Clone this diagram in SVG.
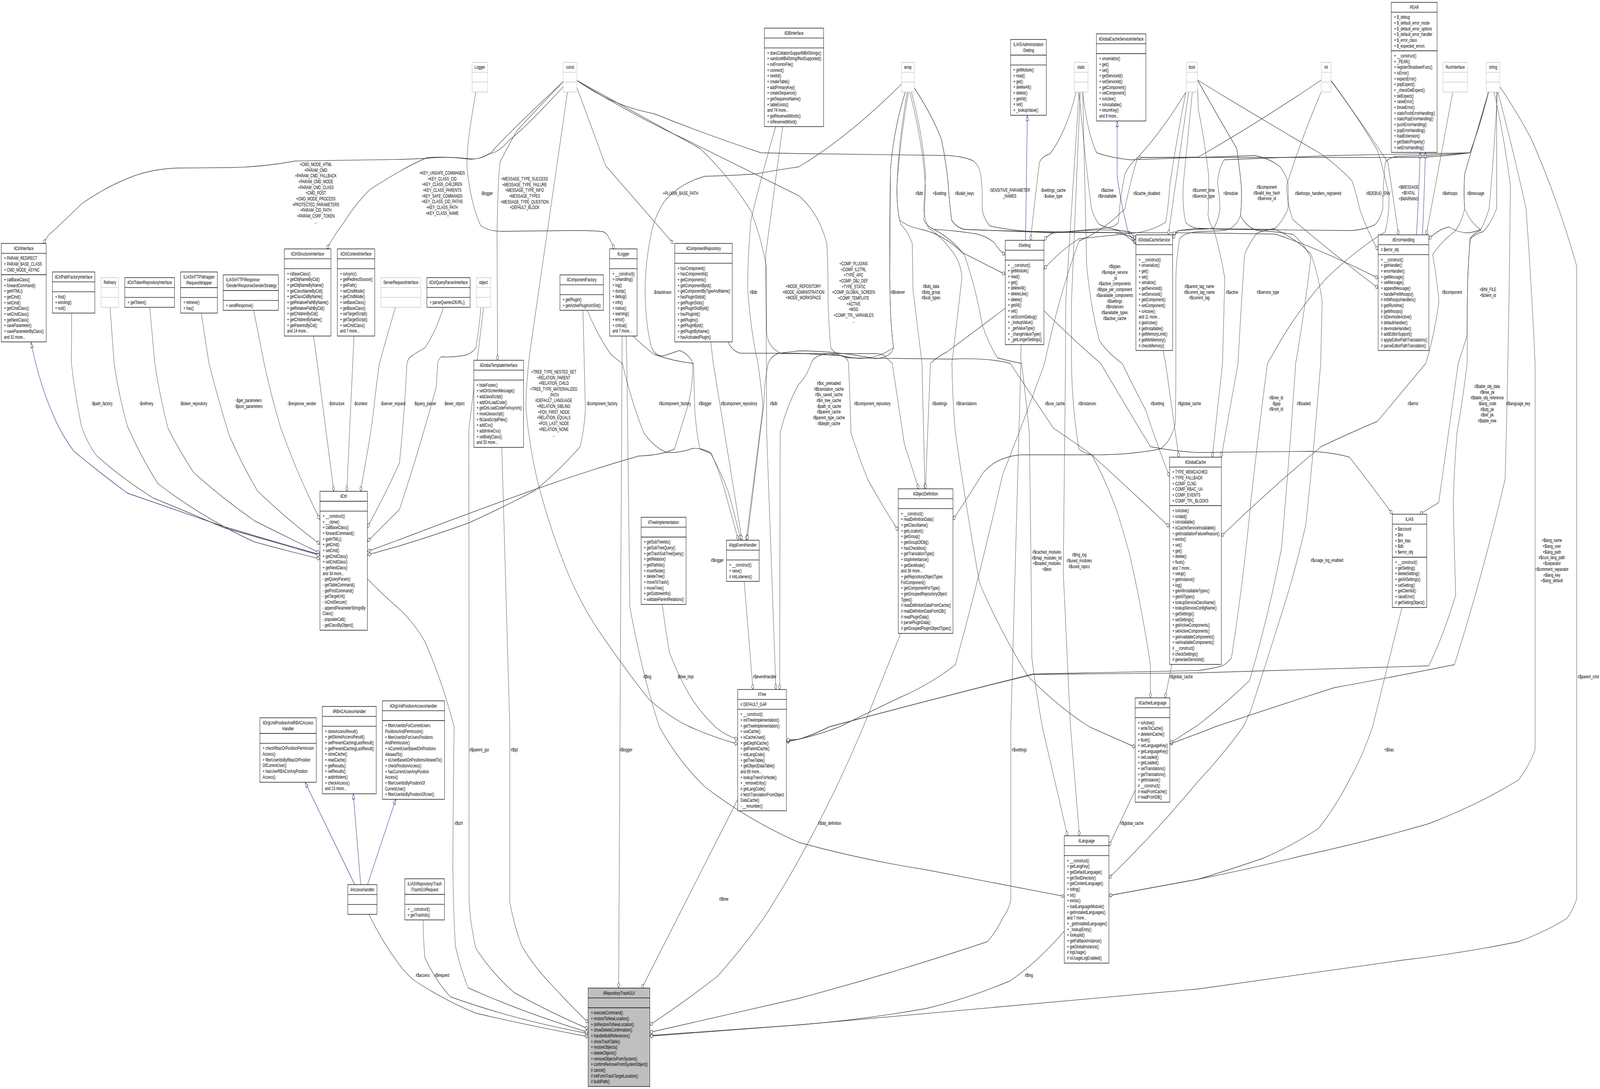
<svg xmlns="http://www.w3.org/2000/svg" width="6409" height="2787" viewBox="0 0 6409 2787" preserveAspectRatio="none">
<style>
svg{width:100vw;height:100vh}
text{font-family:"Liberation Sans",Arial,sans-serif;font-size:13.33px;fill:#000}
.t,.l{text-anchor:middle}
.n rect{fill:#fff;stroke:#000;stroke-width:1.33}
.n path{fill:none;stroke:#000;stroke-width:1.33}
.g rect,.g path{stroke:#bfbfbf}
.f rect{fill:#bfbfbf}
.e{fill:none;stroke:#404040;stroke-width:1.33;marker-end:url(#d)}
.i{fill:none;stroke:#191970;stroke-width:1.33;marker-end:url(#h)}
</style>
<defs>
<marker id="d" markerUnits="userSpaceOnUse" markerWidth="16" markerHeight="12" refX="14.5" refY="6" orient="auto" overflow="visible"><path d="M.5 6L7.5 1.3L14.5 6L7.5 10.7Z" fill="#fff" stroke="#404040" stroke-width="1.33"/></marker>
<marker id="h" markerUnits="userSpaceOnUse" markerWidth="16" markerHeight="12" refX="14.5" refY="6" orient="auto" overflow="visible"><path d="M.5 1.3L14.5 6L.5 10.7Z" fill="#fff" stroke="#191970" stroke-width="1.33"/></marker>
</defs>
<rect width="6409" height="2787" fill="#fff"/>
<g id="connectors">
<path class="e" d="M2256 209Q2020 350 1967 391Q1925 410 1875 406Q1790 400 1712 405Q1650 407 1600 408L1184 412Q1050 428 918 429L714 430Q600 432 510 457Q420 480 326 522Q250 570 194 602Q183 613 173 623"/>
<path class="e" d="M2256 222Q2100 330 2039 359Q2000 390 1957 394Q1915 410 1875 407Q1790 400 1712 403Q1650 420 1600 439Q1530 465 1480 486Q1420 525 1378 569Q1340 600 1309 637"/>
<path class="e" d="M1906 236Q1880 330 1873 380Q1868 420 1873 445Q1890 530 1926 578Q1960 592 2008 592L2300 590Q2380 590 2416 593Q2430 597 2436 605Q2450 620 2460 637"/>
<path class="e" d="M2256 209Q2120 300 2070 335Q2030 380 2003 415Q1995 450 1991 593L1993 922"/>
<path class="e" d="M2273 236L2125 890Q2105 990 2107 1049Q2120 1140 2151 1226Q2200 1350 2273 1464Q2330 1550 2396 1612Q2500 1710 2600 1790Q2680 1835 2763 1860Q2850 1885 2954 1904"/>
<path class="e" d="M2311 224L2426 424L2697 623"/>
<path class="e" d="M2311 206Q2450 270 2620 291Q2830 345 3048 391Q3120 392 3200 393L3800 398Q3870 402 3899 412Q3925 425 3929 451Q3937 490 3934 534Q3940 560 3965 578Q4050 592 4220 595L4800 596L5108 599Q5300 640 5520 712"/>
<path class="e" d="M2311 206Q2520 290 2742 356Q2960 425 3200 501Q3280 545 3312 623Q3318 700 3317 771Q3320 840 3328 890Q3350 912 3404 916L3812 919Q3960 915 4047 930Q4140 1020 4220 1096Q4300 1130 4373 1164Q4520 1250 4684 1348"/>
<path class="e" d="M2311 206Q2580 300 2804 380Q2920 450 3008 540Q3050 610 3069 680L3071 850Q3075 890 3130 905L3500 905Q3545 905 3547 915Q3560 920 3574 930Q3600 1040 3623 1138Q3650 1190 3680 1251"/>
<path class="e" d="M2916 875Q2935 900 2967 904L3200 904Q3300 908 3373 910Q3395 915 3399 930Q3405 1020 3409 1108Q3440 1170 3475 1226Q3530 1290 3598 1358"/>
<path class="e" d="M3107 324Q3050 450 3008 563Q2995 660 2995 741Q3005 830 3028 907Q3034 920 3036 930Q3050 990 3056 1043L2989 1382"/>
<path class="e" d="M3135 324L3067 652L3070 930L3071 1108L3108 1764"/>
<path class="e" d="M3626 236Q3580 330 3567 433Q3562 570 3564 712Q3565 820 3579 890Q3570 915 3506 918Q3350 898 3200 898L3120 904Q3090 910 3077 930Q3068 960 3064 983L3059 1037L2993 1382"/>
<path class="e" d="M3626 236Q3580 330 3567 433L3564 712Q3565 820 3579 890Q3500 925 3410 915L3320 905Q3260 908 3249 930Q3230 965 3200 983Q3150 1040 3125 1108L3123 1764"/>
<path class="e" d="M3611 215Q3400 350 3200 427Q3100 436 3028 445Q2920 450 2824 451Q2720 470 2661 516Q2625 550 2610 593Q2585 670 2584 741Q2585 830 2610 890Q2630 915 2661 910L2722 897Q2755 905 2773 925Q2780 980 2753 1043L2702 1149Q2650 1165 2559 1167Q2350 1205 2141 1253Q1870 1315 1600 1381L1473 1411"/>
<path class="e" d="M3634 236Q3600 360 3593 474Q3592 530 3603 563Q3635 580 3690 587Q3780 600 3853 646L4026 702"/>
<path class="e" d="M3644 236Q3695 360 3707 474Q3705 530 3700 563Q3715 580 3741 587Q3830 590 3914 599Q3960 607 3985 623Q4000 640 4026 652"/>
<path class="e" d="M3639 236Q3605 360 3593 474Q3590 530 3608 575Q3635 590 3654 623Q3656 680 3657 741L3693 930L3705 1251"/>
<path class="e" d="M4026 789Q3900 850 3792 901Q3750 915 3727 930L3707 1251"/>
<path class="e" d="M3651 236Q3695 340 3707 445Q3705 490 3700 534Q3705 565 3720 584Q3770 605 3810 640Q3850 670 3853 712L3813 930Q3815 1020 3827 1108Q3870 1300 3924 1493Q4010 1620 4118 1731Q4240 1810 4363 1860Q4450 1885 4547 1912"/>
<path class="e" d="M3662 225Q3730 290 3771 356Q3795 430 3802 504Q3805 530 3812 563Q3830 582 3863 587Q4040 592 4220 593L4456 595Q4510 598 4550 612"/>
<path class="e" d="M3662 225Q3730 290 3771 356Q3795 430 3802 504Q3805 530 3812 563Q3830 582 3863 587Q4040 592 4220 596Q4400 585 4480 590L4550 622"/>
<path class="e" d="M3741 587Q3810 610 3863 652Q3910 740 3934 830Q3960 880 3996 916Q4050 925 4092 930Q4110 1020 4123 1108Q4130 1400 4133 1683Q4150 1770 4175 1860L4276 2139"/>
<path class="e" d="M4090 882L4089 930L4049 1860L4049 2303Q4040 2330 4016 2350Q3990 2385 3955 2410Q3580 2490 3200 2555L2603 2642"/>
<path class="e" d="M3608 1621L3458 1860Q3340 2040 3200 2200Q3130 2280 3059 2350Q2970 2430 2875 2498Q2740 2565 2603 2623"/>
<path class="e" d="M4263 2383Q4160 2460 4047 2510Q3880 2555 3710 2581Q3450 2610 3200 2623L2603 2650"/>
<path class="e" d="M6008 222Q6080 290 6134 356Q6240 510 6316 682L6316 2300Q6300 2330 6277 2350Q6190 2385 6082 2410Q5850 2440 5621 2457L4800 2531L3200 2623L2603 2652"/>
<path class="e" d="M1478 2340Q1530 2410 1600 2469Q1630 2495 1661 2510Q1780 2560 1906 2593Q2120 2625 2356 2653"/>
<path class="e" d="M1695 2355Q1695 2400 1702 2451Q1745 2510 1804 2551Q2060 2610 2356 2645"/>
<path class="e" d="M1471 1481Q1530 1520 1600 1559Q1660 1595 1702 1642Q1770 1740 1819 1860Q1815 2040 1814 2215Q1815 2320 1824 2421Q1845 2480 1875 2528Q2090 2590 2356 2642"/>
<path class="e" d="M1937 787L1878 1100L1879 2309Q1885 2370 1906 2427Q1970 2490 2059 2540Q2200 2590 2356 2633"/>
<path class="e" d="M2010 1145L2042 1860L2042 2309Q2060 2370 2090 2421Q2140 2475 2212 2522Q2280 2570 2356 2617"/>
<path class="e" d="M2492 860L2478 2528"/>
<path class="e" d="M2955 2046L2570 2530"/>
<path class="e" d="M2508 860L2511 930L2523 1553Q2570 1720 2641 1860Q2720 1950 2824 2014Q3000 2100 3200 2156Q3450 2200 3710 2226L4263 2294"/>
<path class="e" d="M2536 860Q2575 885 2620 907Q2700 925 2778 930L2783 1049Q2790 1110 2804 1149Q2825 1155 2850 1161Q2890 1220 2916 1286Q2940 1340 2957 1382"/>
<path class="e" d="M2352 794Q2395 860 2447 907Q2470 920 2493 930Q2530 1030 2579 1108Q2620 1145 2671 1158Q2720 1160 2773 1148Q2810 1145 2845 1158Q2885 1205 2916 1256Q2945 1320 2967 1382"/>
<path class="e" d="M2847 875L2857 930L2972 1382"/>
<path class="e" d="M2981 1488L3016 1764"/>
<path class="e" d="M2653 1547Q2665 1610 2682 1671Q2720 1735 2773 1790Q2815 1830 2865 1860Q2900 1880 2955 1892"/>
<path class="e" d="M2335 794L2345 1049Q2340 1100 2324 1143Q2240 1205 2141 1256Q2010 1300 1875 1339Q1740 1370 1600 1397L1473 1420"/>
<path class="i" d="M4108 615L4115 295"/>
<path class="e" d="M4310 236Q4290 290 4261 332Q4230 375 4205 394Q4175 400 4164 415Q4145 510 4128 615"/>
<path class="e" d="M4761 236Q4725 400 4680 601"/>
<path class="e" d="M4750 236Q4715 350 4687 468Q4680 530 4669 569Q4610 592 4546 596L4322 611Q4250 640 4182 688"/>
<path class="e" d="M5962 236Q5930 320 5888 391Q5790 400 5682 403L4800 403L4557 403Q4525 420 4506 445Q4485 510 4480 569Q4465 582 4424 584L4220 596Q4200 600 4182 615"/>
<path class="e" d="M4322 236Q4345 400 4372 534Q4385 560 4404 575Q4460 590 4526 593L4550 612"/>
<path class="i" d="M4550 626Q4530 610 4516 587Q4490 520 4475 451L4475 310"/>
<path class="e" d="M4659 897L4669 930L4722 1170"/>
<path class="e" d="M4797 205Q4880 300 4954 380Q4965 430 4972 474Q4975 515 4969 551Q4950 585 4903 590L4800 593Q4745 595 4725 611Q4712 660 4710 712L4710 930Q4710 1020 4708 1084Q4690 1130 4648 1149Q4520 1165 4373 1164L4087 1164Q3990 1170 3938 1210Q3870 1280 3817 1330"/>
<path class="e" d="M4797 225L4800 279Q4825 360 4841 445Q4843 500 4839 551Q4845 575 4862 587Q4890 650 4906 712L4897 930L4856 1170"/>
<path class="e" d="M4327 236L4292 771L4292 930Q4295 1050 4322 1149Q4340 1160 4373 1164Q4430 1230 4475 1310Q4500 1360 4526 1422Q4575 1560 4608 1701L4608 1786"/>
<path class="e" d="M4322 236L4269 771L4268 930L4259 1464L4288 1860L4324 2139"/>
<path class="e" d="M4337 236L4353 682Q4370 790 4404 872Q4440 905 4495 930Q4540 990 4589 1049Q4630 1130 4685 1220"/>
<path class="e" d="M4181 795Q4300 870 4409 930Q4510 1040 4608 1143Q4700 1155 4800 1158L5251 1155Q5340 1158 5405 1170Q5480 1230 5577 1315"/>
<path class="e" d="M4750 236Q4650 340 4557 403Q4525 470 4506 534Q4420 590 4322 617Q4240 760 4184 930Q4100 1080 4016 1215Q3930 1460 3827 1701Q3730 1750 3608 1784Q3490 1820 3363 1860Q3280 1880 3200 1892L3150 1899"/>
<path class="e" d="M5331 207Q5430 290 5518 385Q5545 440 5564 504Q5565 550 5549 593Q5430 640 5313 712Q5190 800 5098 907L5077 930Q5040 1110 5010 1286Q4980 1490 4933 1683Q4920 1695 4897 1704Q4850 1712 4800 1716L4138 1725Q3730 1790 3322 1860Q3260 1880 3200 1892L3150 1896"/>
<path class="e" d="M5998 236Q5985 390 5965 534Q5950 565 5930 590Q5905 595 5888 611Q5880 690 5877 771L5877 930Q5860 1020 5836 1108Q5825 1200 5821 1286Q5825 1400 5831 1523Q5780 1630 5723 1704L4800 1722L4138 1726Q3730 1790 3322 1860Q3260 1880 3200 1892L3150 1894"/>
<path class="e" d="M5995 236L5995 534Q5970 575 5940 593Q5910 598 5890 611Q5882 660 5879 712L5876 860L5841 930L5763 1286L5687 1316"/>
<path class="e" d="M5962 236Q5930 320 5888 391Q5750 398 5600 400Q5565 402 5549 415Q5540 470 5539 534Q5530 560 5508 575Q5470 587 5416 590L4903 587L4800 584L4720 590L4697 610"/>
<path class="i" d="M5674 601Q5683 500 5688 403L5689 390"/>
<path class="i" d="M5698 601Q5705 500 5709 403L5710 390"/>
<path class="e" d="M5819 236L5713 601"/>
<path class="e" d="M5962 236Q5910 350 5867 445Q5862 490 5867 534Q5890 570 5930 587Q5905 595 5877 596Q5840 595 5805 581Q5765 585 5723 612"/>
<path class="e" d="M5962 236Q5910 350 5867 445Q5862 490 5867 534Q5855 570 5826 593Q5770 620 5739 652Q5755 710 5764 771Q5745 860 5711 930Q5620 1000 5518 1078Q5400 1110 5292 1143Q5090 1250 4892 1372"/>
<path class="e" d="M5331 205Q5450 310 5559 415Q5570 460 5580 504L5602 601"/>
<path class="e" d="M5292 236Q5215 350 5154 474Q5155 525 5180 563Q5340 650 5520 737"/>
<path class="e" d="M4797 205Q5040 300 5292 394Q5360 425 5416 463Q5435 500 5446 534Q5475 590 5520 640"/>
<path class="e" d="M4337 236Q4355 340 4393 391Q4455 405 4530 409L4800 403L5026 398Q5085 405 5128 427Q5150 445 5159 468Q5162 500 5159 534Q5140 565 5108 584Q5065 590 5036 596Q5005 620 4985 652Q4970 800 4959 930L4892 1170"/>
<path class="e" d="M5292 205Q5050 310 4800 402L4557 403"/>
<path class="e" d="M5962 236Q5930 320 5888 391Q5620 395 5340 398L4903 409Q4880 435 4877 468Q4885 500 4887 534Q4880 565 4862 584Q4830 587 4800 587L4720 590L4697 600"/>
<path class="e" d="M5616 1554L5498 1860Q5455 1940 5405 1996Q5350 2065 5282 2120Q5175 2165 5057 2197Q4930 2225 4800 2250L4442 2292"/>
<path class="e" d="M6000 236Q6060 380 6113 534Q6135 730 6149 930L6149 1919Q6125 1960 6083 1996Q5920 2060 5723 2108Q5470 2155 5210 2191Q5000 2225 4800 2250L4442 2292"/>
<path class="e" d="M5985 236Q6025 350 6050 474Q6045 850 6029 1226Q5940 1470 5826 1701Q5600 1730 5344 1760Q5100 1810 4867 1860Q4830 1870 4800 1877L4686 1904"/>
<path class="e" d="M4797 205Q4880 300 4954 380Q4965 430 4972 474Q4975 515 4969 551Q4990 580 5036 590Q5110 592 5180 600Q5225 625 5251 660Q5225 800 5190 930Q5165 1170 5133 1404Q5080 1580 5005 1742Q4910 1800 4800 1855L4686 1902"/>
<path class="e" d="M4776 236L4740 470Q4735 530 4750 570Q4770 582 4800 585L5108 587Q5190 610 5251 650Q5280 700 5296 771L5290 930Q5265 1140 5230 1345Q5185 1470 5128 1582Q5070 1700 5010 1819L4980 1860Q4895 1935 4800 1999Q4630 2130 4442 2247"/>
<path class="e" d="M4694 1700L4667 1786"/>
<path class="e" d="M4547 2023L4442 2165"/>
<path class="i" d="M1421 2264L1222 2002"/>
<path class="i" d="M1445 2264L1415 2031"/>
<path class="i" d="M1472 2264L1586 2045"/>
<path class="e" d="M1776 787Q1745 850 1702 890Q1675 900 1651 910Q1635 915 1630 930Q1620 1060 1600 1185Q1540 1270 1471 1350"/>
<path class="e" d="M1926 787Q1920 840 1906 890Q1885 908 1855 910Q1810 915 1768 913Q1755 920 1753 930L1748 989Q1680 1150 1600 1304L1473 1385"/>
<path class="i" d="M1281 1419Q1090 1385 898 1348Q700 1305 510 1262Q400 1210 296 1155Q255 1120 224 1078Q175 1010 143 930L124 876"/>
<path class="e" d="M287 801L286 930Q300 1010 326 1090Q350 1135 388 1167Q490 1225 612 1274Q750 1310 898 1351Q1080 1385 1281 1421"/>
<path class="e" d="M441 787L457 930Q475 1010 510 1090Q565 1170 633 1238Q760 1300 898 1348Q960 1370 1020 1387Q1150 1410 1281 1430"/>
<path class="e" d="M600 787L620 930Q640 1015 673 1096Q720 1155 775 1209Q890 1275 1020 1333Q1150 1375 1281 1415"/>
<path class="e" d="M806 801L837 930Q875 1025 918 1114Q970 1190 1031 1256Q1150 1330 1281 1392"/>
<path class="e" d="M1016 794L1058 930Q1085 1010 1122 1090Q1155 1150 1194 1209Q1235 1270 1281 1329"/>
<path class="e" d="M1256 860L1271 930L1337 1257"/>
<path class="e" d="M1418 860L1413 930L1389 1257"/>
<path class="e" d="M1584 787Q1550 860 1520 930Q1508 980 1500 1031Q1490 1090 1474 1149L1444 1257"/>
</g>
<g id="labels">
<text class="l" x="1265" y="425"><tspan x="1265">+CMD_MODE_HTML</tspan><tspan x="1265" dy="14.67">+PARAM_CMD</tspan><tspan x="1265" dy="14.67">+PARAM_CMD_FALLBACK</tspan><tspan x="1265" dy="14.67">+PARAM_CMD_MODE</tspan><tspan x="1265" dy="14.67">+PARAM_CMD_CLASS</tspan><tspan x="1265" dy="14.67">+CMD_POST</tspan><tspan x="1265" dy="14.67">+CMD_MODE_PROCESS</tspan><tspan x="1265" dy="14.67">+PROTECTED_PARAMETERS</tspan><tspan x="1265" dy="14.67">+PARAM_CID_PATH</tspan><tspan x="1265" dy="14.67">+PARAM_CSRF_TOKEN</tspan><tspan x="1265" dy="14.67">...</tspan></text>
<text class="l" x="1771" y="447"><tspan x="1771">+KEY_UNSAFE_COMMANDS</tspan><tspan x="1771" dy="14.67">+KEY_CLASS_CID</tspan><tspan x="1771" dy="14.67">+KEY_CLASS_CHILDREN</tspan><tspan x="1771" dy="14.67">+KEY_CLASS_PARENTS</tspan><tspan x="1771" dy="14.67">+KEY_SAFE_COMMANDS</tspan><tspan x="1771" dy="14.67">+KEY_CLASS_CID_PATHS</tspan><tspan x="1771" dy="14.67">+KEY_CLASS_PATH</tspan><tspan x="1771" dy="14.67">+KEY_CLASS_NAME</tspan></text>
<text class="l" x="1950" y="499">-$logger</text>
<text class="l" x="2101" y="462"><tspan x="2101">+MESSAGE_TYPE_SUCCESS</tspan><tspan x="2101" dy="14.67">+MESSAGE_TYPE_FAILURE</tspan><tspan x="2101" dy="14.67">+MESSAGE_TYPE_INFO</tspan><tspan x="2101" dy="14.67">+MESSAGE_TYPES</tspan><tspan x="2101" dy="14.67">+MESSAGE_TYPE_QUESTION</tspan><tspan x="2101" dy="14.67">+DEFAULT_BLOCK</tspan></text>
<text class="l" x="2726" y="499">+PLUGIN_BASE_PATH</text>
<text class="l" x="2653" y="752">-$stacktrace</text>
<text class="l" x="3018" y="752">#$db</text>
<text class="l" x="3218" y="737"><tspan x="3218">+MODE_REPOSITORY</tspan><tspan x="3218" dy="14.67">+MODE_ADMINISTRATION</tspan><tspan x="3218" dy="14.67">+MODE_WORKSPACE</tspan></text>
<text class="l" x="3419" y="679"><tspan x="3419">+COMP_PLUGINS</tspan><tspan x="3419" dy="14.67">+COMP_ILCTRL</tspan><tspan x="3419" dy="14.67">+TYPE_APC</tspan><tspan x="3419" dy="14.67">+COMP_OBJ_DEF</tspan><tspan x="3419" dy="14.67">+TYPE_STATIC</tspan><tspan x="3419" dy="14.67">+COMP_GLOBAL_SCREEN</tspan><tspan x="3419" dy="14.67">+COMP_TEMPLATE</tspan><tspan x="3419" dy="14.67">+ACTIVE</tspan><tspan x="3419" dy="14.67">+MSG</tspan><tspan x="3419" dy="14.67">+COMP_TPL_VARIABLES</tspan><tspan x="3419" dy="14.67">...</tspan></text>
<text class="l" x="3596" y="752">#$listener</text>
<text class="l" x="3729" y="737"><tspan x="3729">#$obj_data</tspan><tspan x="3729" dy="14.67">#$obj_group</tspan><tspan x="3729" dy="14.67">#$sub_types</tspan></text>
<text class="l" x="3682" y="499">#$db</text>
<text class="l" x="3763" y="499">+$setting</text>
<text class="l" x="3863" y="499">#$valid_keys</text>
<text class="l" x="4044" y="491"><tspan x="4044">-SENSITIVE_PARAMETER</tspan><tspan x="4044" dy="14.67">_NAMES</tspan></text>
<text class="l" x="4218" y="491"><tspan x="4218">-$settings_cache</tspan><tspan x="4218" dy="14.67">-$value_type</tspan></text>
<text class="l" x="4435" y="491"><tspan x="4435">#$active</tspan><tspan x="4435" dy="14.67">#$installable</tspan></text>
<text class="l" x="4593" y="499">#$cache_disabled</text>
<text class="l" x="4465" y="686.5"><tspan x="4465">#$types</tspan><tspan x="4465" dy="14.67">#$unique_service</tspan><tspan x="4465" dy="14.67">_id</tspan><tspan x="4465" dy="14.67">#$active_components</tspan><tspan x="4465" dy="14.67">#$type_per_component</tspan><tspan x="4465" dy="14.67">#$available_components</tspan><tspan x="4465" dy="14.67">#$settings</tspan><tspan x="4465" dy="14.67">#$instances</tspan><tspan x="4465" dy="14.67">#$available_types</tspan><tspan x="4465" dy="14.67">#$active_cache</tspan></text>
<text class="l" x="4804" y="737"><tspan x="4804">#$parent_tag_name</tspan><tspan x="4804" dy="14.67">#$current_tag_name</tspan><tspan x="4804" dy="14.67">#$current_tag</tspan></text>
<text class="l" x="4821" y="491"><tspan x="4821">#$current_time</tspan><tspan x="4821" dy="14.67">#$service_type</tspan></text>
<text class="l" x="4929" y="499">+$module</text>
<text class="l" x="5074" y="483"><tspan x="5074">#$component</tspan><tspan x="5074" dy="14.67">#$valid_key_hash</tspan><tspan x="5074" dy="14.67">#$service_id</tspan></text>
<text class="l" x="5280" y="499">#$whoops_handlers_registered</text>
<text class="l" x="5521" y="499">#$DEBUG_ENV</text>
<text class="l" x="5642" y="483.5"><tspan x="5642">+$MESSAGE</tspan><tspan x="5642" dy="14.67">+$FATAL</tspan><tspan x="5642" dy="14.67">+$WARNING</tspan></text>
<text class="l" x="5808" y="499">#$whoops</text>
<text class="l" x="5911" y="499">#$message</text>
<text class="l" x="4935" y="752">#$active</text>
<text class="l" x="5079" y="752">#$service_type</text>
<text class="l" x="5816" y="752">#$component</text>
<text class="l" x="5960" y="745"><tspan x="5960">+$INI_FILE</tspan><tspan x="5960" dy="14.67">+$client_id</tspan></text>
<text class="l" x="408" y="1037">-$path_factory</text>
<text class="l" x="586" y="1037">-$refinery</text>
<text class="l" x="775" y="1037">-$token_repository</text>
<text class="l" x="996" y="1029.5"><tspan x="996">-$get_parameters</tspan><tspan x="996" dy="14.67">-$post_parameters</tspan></text>
<text class="l" x="1209" y="1037">-$response_sender</text>
<text class="l" x="1348" y="1037">-$structure</text>
<text class="l" x="1444" y="1037">-$context</text>
<text class="l" x="1574" y="1037">-$server_request</text>
<text class="l" x="1702" y="1037">-$query_parser</text>
<text class="l" x="1819" y="1037">-$exec_object</text>
<text class="l" x="2218" y="956"><tspan x="2218">+TREE_TYPE_NESTED_SET</tspan><tspan x="2218" dy="14.67">+RELATION_PARENT</tspan><tspan x="2218" dy="14.67">+RELATION_CHILD</tspan><tspan x="2218" dy="14.67">+TREE_TYPE_MATERIALIZED</tspan><tspan x="2218" dy="14.67">_PATH</tspan><tspan x="2218" dy="14.67">#DEFAULT_LANGUAGE</tspan><tspan x="2218" dy="14.67">+RELATION_SIBLING</tspan><tspan x="2218" dy="14.67">+POS_FIRST_NODE</tspan><tspan x="2218" dy="14.67">+RELATION_EQUALS</tspan><tspan x="2218" dy="14.67">+POS_LAST_NODE</tspan><tspan x="2218" dy="14.67">+RELATION_NONE</tspan><tspan x="2218" dy="14.67">...</tspan></text>
<text class="l" x="2411" y="1037">-$component_factory</text>
<text class="l" x="2703" y="1037">#$component_factory</text>
<text class="l" x="2824" y="1037">#$logger</text>
<text class="l" x="2960" y="1037">#$component_repository</text>
<text class="l" x="3099" y="1037">#$db</text>
<text class="l" x="2873" y="1438.5">#$logger</text>
<text class="l" x="2593" y="1736">#$log</text>
<text class="l" x="2745" y="1736">-$tree_impl</text>
<text class="l" x="3063" y="1736">#$eventHandler</text>
<text class="l" x="3320" y="985"><tspan x="3320">#$oc_preloaded</tspan><tspan x="3320" dy="14.67">#$translation_cache</tspan><tspan x="3320" dy="14.67">#$is_saved_cache</tspan><tspan x="3320" dy="14.67">#$in_tree_cache</tspan><tspan x="3320" dy="14.67">-$path_id_cache</tspan><tspan x="3320" dy="14.67">#$parent_cache</tspan><tspan x="3320" dy="14.67">#$parent_type_cache</tspan><tspan x="3320" dy="14.67">#$depth_cache</tspan></text>
<text class="l" x="3494" y="1037">#$component_repository</text>
<text class="l" x="3764" y="1037">#$settings</text>
<text class="l" x="3871" y="1037">#$translations</text>
<text class="l" x="4225" y="1037">#$use_cache</text>
<text class="l" x="4355" y="1037">#$instances</text>
<text class="l" x="4636" y="1037">#$setting</text>
<text class="l" x="4764" y="1037">#$global_cache</text>
<text class="l" x="5112" y="1022"><tspan x="5112">#$tree_id</tspan><tspan x="5112" dy="14.67">-$gap</tspan><tspan x="5112" dy="14.67">#$root_id</tspan></text>
<text class="l" x="5222" y="1037">#$loaded</text>
<text class="l" x="5660" y="1037">#$error</text>
<text class="l" x="5957" y="993"><tspan x="5957">#$table_obj_data</tspan><tspan x="5957" dy="14.67">#$tree_pk</tspan><tspan x="5957" dy="14.67">#$table_obj_reference</tspan><tspan x="5957" dy="14.67">-$lang_code</tspan><tspan x="5957" dy="14.67">#$obj_pk</tspan><tspan x="5957" dy="14.67">#$ref_pk</tspan><tspan x="5957" dy="14.67">#$table_tree</tspan></text>
<text class="l" x="6081" y="1037">#$language_key</text>
<text class="l" x="6216" y="1387.5"><tspan x="6216">+$lang_name</tspan><tspan x="6216" dy="14.67">+$lang_user</tspan><tspan x="6216" dy="14.67">+$lang_path</tspan><tspan x="6216" dy="14.67">#$cust_lang_path</tspan><tspan x="6216" dy="14.67">+$separator</tspan><tspan x="6216" dy="14.67">+$comment_separator</tspan><tspan x="6216" dy="14.67">+$lang_key</tspan><tspan x="6216" dy="14.67">+$lang_default</tspan></text>
<text class="l" x="5315" y="1438.5">#$usage_log_enabled</text>
<text class="l" x="6362" y="1736">#$parent_cmd</text>
<text class="l" x="4193" y="1417"><tspan x="4193">#$cached_modules</tspan><tspan x="4193" dy="14.67">#$map_modules_txt</tspan><tspan x="4193" dy="14.67">+$loaded_modules</tspan><tspan x="4193" dy="14.67">+$text</tspan></text>
<text class="l" x="4323" y="1424.5"><tspan x="4323">#$lng_log</tspan><tspan x="4323" dy="14.67">#$used_modules</tspan><tspan x="4323" dy="14.67">#$used_topics</tspan></text>
<text class="l" x="4731" y="1736">#$global_cache</text>
<text class="l" x="1837" y="2111">#$ctrl</text>
<text class="l" x="1919" y="1923">#$parent_gui</text>
<text class="l" x="2060" y="1923">#$tpl</text>
<text class="l" x="2507" y="1923">#$logger</text>
<text class="l" x="1693" y="2500">#$access</text>
<text class="l" x="1770" y="2500">#$request</text>
<text class="l" x="2899" y="2305">#$tree</text>
<text class="l" x="3323" y="2111">#$obj_definition</text>
<text class="l" x="4083" y="1923">#$settings</text>
<text class="l" x="4534" y="2111">#$global_cache</text>
<text class="l" x="4121" y="2500">#$lng</text>
<text class="l" x="5564" y="1923">+$ilias</text>
</g>
<g id="ilCtrlInterface" class="n" transform="translate(5,623)"><rect width="180" height="252"/><path d="M0 25.33H180M0 80H180"/><text class="t" x="90" y="17">ilCtrlInterface</text><text y="42.33"><tspan x="11">+ PARAM_REDIRECT</tspan><tspan x="11" dy="14.67">+ PARAM_BASE_CLASS</tspan><tspan x="11" dy="14.67">+ CMD_MODE_ASYNC</tspan></text><text y="97"><tspan x="11">+ callBaseClass()</tspan><tspan x="11" dy="14.67">+ forwardCommand()</tspan><tspan x="11" dy="14.67">+ getHTML()</tspan><tspan x="11" dy="14.67">+ getCmd()</tspan><tspan x="11" dy="14.67">+ setCmd()</tspan><tspan x="11" dy="14.67">+ getCmdClass()</tspan><tspan x="11" dy="14.67">+ setCmdClass()</tspan><tspan x="11" dy="14.67">+ getNextClass()</tspan><tspan x="11" dy="14.67">+ saveParameter()</tspan><tspan x="11" dy="14.67">+ saveParameterByClass()</tspan><tspan x="11" dy="14.67">and 32 more...</tspan></text></g>
<g id="ilCtrlPathFactoryInterface" class="n" transform="translate(210,696)"><rect width="170" height="105.33"/><path d="M0 25.33H170M0 50.67H170"/><text class="t" x="85" y="17">ilCtrlPathFactoryInterface</text><text y="67.67"><tspan x="11">+ find()</tspan><tspan x="11" dy="14.67">+ existing()</tspan><tspan x="11" dy="14.67">+ null()</tspan></text></g>
<g id="Refinery" class="n g" transform="translate(405,710.5)"><rect width="70.5" height="76"/><path d="M0 25.33H70.5M0 50.67H70.5"/><text class="t" x="35.25" y="17">Refinery</text></g>
<g id="ilCtrlTokenRepositoryInterface" class="n" transform="translate(500,710.5)"><rect width="199" height="76"/><path d="M0 25.33H199M0 50.67H199"/><text class="t" x="99.5" y="17">ilCtrlTokenRepositoryInterface</text><text y="67.67"><tspan x="11">+ getToken()</tspan></text></g>
<g id="RequestWrapper" class="n" transform="translate(723.5,696)"><rect width="147" height="105.33"/><path d="M0 40H147M0 65.33H147"/><text class="t" x="73.5" y="17"><tspan x="73.5">ILIAS\HTTP\Wrapper</tspan><tspan x="73.5" dy="14.67">\RequestWrapper</tspan></text><text y="82.33"><tspan x="11">+ retrieve()</tspan><tspan x="11" dy="14.67">+ has()</tspan></text></g>
<g id="ResponseSenderStrategy" class="n" transform="translate(894,703.5)"><rect width="221" height="90.67"/><path d="M0 40H221M0 65.33H221"/><text y="17"><tspan x="11">ILIAS\HTTP\Response</tspan><tspan x="11" dy="14.67">\Sender\ResponseSenderStrategy</tspan></text><text y="82.33"><tspan x="11">+ sendResponse()</tspan></text></g>
<g id="ilCtrlStructureInterface" class="n" transform="translate(1139,637)"><rect width="186.5" height="223"/><path d="M0 25.33H186.5M0 50.67H186.5"/><text class="t" x="93" y="17">ilCtrlStructureInterface</text><text y="67.67"><tspan x="11">+ isBaseClass()</tspan><tspan x="11" dy="14.67">+ getObjNameByCid()</tspan><tspan x="11" dy="14.67">+ getObjNameByName()</tspan><tspan x="11" dy="14.67">+ getClassNameByCid()</tspan><tspan x="11" dy="14.67">+ getClassCidByName()</tspan><tspan x="11" dy="14.67">+ getRelativePathByName()</tspan><tspan x="11" dy="14.67">+ getRelativePathByCid()</tspan><tspan x="11" dy="14.67">+ getChildrenByCid()</tspan><tspan x="11" dy="14.67">+ getChildrenByName()</tspan><tspan x="11" dy="14.67">+ getParentsByCid()</tspan><tspan x="11" dy="14.67">and 14 more...</tspan></text></g>
<g id="ilCtrlContextInterface" class="n" transform="translate(1351,637)"><rect width="150" height="223"/><path d="M0 25.33H150M0 50.67H150"/><text class="t" x="75" y="17">ilCtrlContextInterface</text><text y="67.67"><tspan x="11">+ isAsync()</tspan><tspan x="11" dy="14.67">+ getRedirectSource()</tspan><tspan x="11" dy="14.67">+ getPath()</tspan><tspan x="11" dy="14.67">+ setCmdMode()</tspan><tspan x="11" dy="14.67">+ getCmdMode()</tspan><tspan x="11" dy="14.67">+ setBaseClass()</tspan><tspan x="11" dy="14.67">+ getBaseClass()</tspan><tspan x="11" dy="14.67">+ setTargetScript()</tspan><tspan x="11" dy="14.67">+ getTargetScript()</tspan><tspan x="11" dy="14.67">+ setCmdClass()</tspan><tspan x="11" dy="14.67">and 7 more...</tspan></text></g>
<g id="ServerRequestInterface" class="n g" transform="translate(1525.5,710.5)"><rect width="160" height="76"/><path d="M0 25.33H160M0 50.67H160"/><text class="t" x="80" y="17">ServerRequestInterface</text></g>
<g id="ilCtrlQueryParserInterface" class="n" transform="translate(1710,710.5)"><rect width="173" height="76"/><path d="M0 25.33H173M0 50.67H173"/><text class="t" x="86.5" y="17">ilCtrlQueryParserInterface</text><text y="67.67"><tspan x="11">+ parseQueriesOfURL()</tspan></text></g>
<g id="object" class="n g" transform="translate(1908,710.5)"><rect width="57" height="76"/><path d="M0 25.33H57M0 50.67H57"/><text class="t" x="28.5" y="17">object</text></g>
<g id="Logger" class="n g" transform="translate(1891,159.5)"><rect width="62" height="76"/><path d="M0 25.33H62M0 50.67H62"/><text class="t" x="31" y="17">Logger</text></g>
<g id="const" class="n g" transform="translate(2256,159.5)"><rect width="55" height="76"/><path d="M0 25.33H55M0 50.67H55"/><text class="t" x="27.5" y="17">const</text></g>
<g id="ilComponentFactory" class="n" transform="translate(2243,703.5)"><rect width="174" height="90.67"/><path d="M0 25.33H174M0 50.67H174"/><text class="t" x="87" y="17">ilComponentFactory</text><text y="67.67"><tspan x="11">+ getPlugin()</tspan><tspan x="11" dy="14.67">+ getActivePluginsInSlot()</tspan></text></g>
<g id="ilLogger" class="n" transform="translate(2442,637)"><rect width="110" height="223"/><path d="M0 25.33H110M0 50.67H110"/><text class="t" x="55" y="17">ilLogger</text><text y="67.67"><tspan x="11">+ __construct()</tspan><tspan x="11" dy="14.67">+ isHandling()</tspan><tspan x="11" dy="14.67">+ log()</tspan><tspan x="11" dy="14.67">+ dump()</tspan><tspan x="11" dy="14.67">+ debug()</tspan><tspan x="11" dy="14.67">+ info()</tspan><tspan x="11" dy="14.67">+ notice()</tspan><tspan x="11" dy="14.67">+ warning()</tspan><tspan x="11" dy="14.67">+ error()</tspan><tspan x="11" dy="14.67">+ critical()</tspan><tspan x="11" dy="14.67">and 7 more...</tspan></text></g>
<g id="ilComponentRepository" class="n" transform="translate(2703,623)"><rect width="230" height="252"/><path d="M0 25.33H230M0 50.67H230"/><text class="t" x="115" y="17">ilComponentRepository</text><text y="67.67"><tspan x="11">+ hasComponent()</tspan><tspan x="11" dy="14.67">+ hasComponentId()</tspan><tspan x="11" dy="14.67">+ getComponents()</tspan><tspan x="11" dy="14.67">+ getComponentById()</tspan><tspan x="11" dy="14.67">+ getComponentByTypeAndName()</tspan><tspan x="11" dy="14.67">+ hasPluginSlotId()</tspan><tspan x="11" dy="14.67">+ getPluginSlots()</tspan><tspan x="11" dy="14.67">+ getPluginSlotById()</tspan><tspan x="11" dy="14.67">+ hasPluginId()</tspan><tspan x="11" dy="14.67">+ getPlugins()</tspan><tspan x="11" dy="14.67">+ getPluginById()</tspan><tspan x="11" dy="14.67">+ getPluginByName()</tspan><tspan x="11" dy="14.67">+ hasActivatedPlugin()</tspan></text></g>
<g id="ilDBInterface" class="n" transform="translate(3062,72)"><rect width="237" height="252"/><path d="M0 25.33H237M0 50.67H237"/><text class="t" x="118.5" y="17">ilDBInterface</text><text y="67.67"><tspan x="11">+ doesCollationSupportMB4Strings()</tspan><tspan x="11" dy="14.67">+ sanitizeMB4StringIfNotSupported()</tspan><tspan x="11" dy="14.67">+ initFromIniFile()</tspan><tspan x="11" dy="14.67">+ connect()</tspan><tspan x="11" dy="14.67">+ nextId()</tspan><tspan x="11" dy="14.67">+ createTable()</tspan><tspan x="11" dy="14.67">+ addPrimaryKey()</tspan><tspan x="11" dy="14.67">+ createSequence()</tspan><tspan x="11" dy="14.67">+ getSequenceName()</tspan><tspan x="11" dy="14.67">+ tableExists()</tspan><tspan x="11" dy="14.67">and 74 more...</tspan><tspan x="11" dy="14.67">+ getReservedWords()</tspan><tspan x="11" dy="14.67">+ isReservedWord()</tspan></text></g>
<g id="array" class="n g" transform="translate(3611,159.5)"><rect width="51" height="76"/><path d="M0 25.33H51M0 50.67H51"/><text class="t" x="25.5" y="17">array</text></g>
<g id="AdministrationSetting" class="n" transform="translate(4048,101)"><rect width="143" height="194"/><path d="M0 40H143M0 65.33H143"/><text class="t" x="71.5" y="17"><tspan x="71.5">ILIAS\Administration</tspan><tspan x="71.5" dy="14.67">\Setting</tspan></text><text y="82.33"><tspan x="11">+ getModule()</tspan><tspan x="11" dy="14.67">+ read()</tspan><tspan x="11" dy="14.67">+ get()</tspan><tspan x="11" dy="14.67">+ deleteAll()</tspan><tspan x="11" dy="14.67">+ delete()</tspan><tspan x="11" dy="14.67">+ getAll()</tspan><tspan x="11" dy="14.67">+ set()</tspan><tspan x="11" dy="14.67">+ _lookupValue()</tspan></text></g>
<g id="static" class="n g" transform="translate(4303,159.5)"><rect width="55" height="76"/><path d="M0 25.33H55M0 50.67H55"/><text class="t" x="27.5" y="17">static</text></g>
<g id="ilGlobalCacheServiceInterface" class="n" transform="translate(4392,86.6)"><rect width="198" height="223"/><path d="M0 25.33H198M0 50.67H198"/><text class="t" x="99" y="17">ilGlobalCacheServiceInterface</text><text y="67.67"><tspan x="11">+ unserialize()</tspan><tspan x="11" dy="14.67">+ get()</tspan><tspan x="11" dy="14.67">+ set()</tspan><tspan x="11" dy="14.67">+ getServiceId()</tspan><tspan x="11" dy="14.67">+ setServiceId()</tspan><tspan x="11" dy="14.67">+ getComponent()</tspan><tspan x="11" dy="14.67">+ setComponent()</tspan><tspan x="11" dy="14.67">+ isActive()</tspan><tspan x="11" dy="14.67">+ isInstallable()</tspan><tspan x="11" dy="14.67">+ returnKey()</tspan><tspan x="11" dy="14.67">and 9 more...</tspan></text></g>
<g id="bool" class="n g" transform="translate(4752,159.5)"><rect width="45" height="76"/><path d="M0 25.33H45M0 50.67H45"/><text class="t" x="22.5" y="17">bool</text></g>
<g id="int" class="n g" transform="translate(5292.6,159.5)"><rect width="39" height="76"/><path d="M0 25.33H39M0 50.67H39"/><text class="t" x="19.5" y="17">int</text></g>
<g id="PEAR" class="n" transform="translate(5573,6)"><rect width="183.5" height="384"/><path d="M0 25.33H183.5M0 124H183.5"/><text class="t" x="92" y="17">PEAR</text><text y="42.33"><tspan x="11">+ $_debug</tspan><tspan x="11" dy="14.67">+ $_default_error_mode</tspan><tspan x="11" dy="14.67">+ $_default_error_options</tspan><tspan x="11" dy="14.67">+ $_default_error_handler</tspan><tspan x="11" dy="14.67">+ $_error_class</tspan><tspan x="11" dy="14.67">+ $_expected_errors</tspan></text><text y="141"><tspan x="11">+ __construct()</tspan><tspan x="11" dy="14.67">+ _PEAR()</tspan><tspan x="11" dy="14.67">+ registerShutdownFunc()</tspan><tspan x="11" dy="14.67">+ isError()</tspan><tspan x="11" dy="14.67">+ expectError()</tspan><tspan x="11" dy="14.67">+ popExpect()</tspan><tspan x="11" dy="14.67">+ _checkDelExpect()</tspan><tspan x="11" dy="14.67">+ delExpect()</tspan><tspan x="11" dy="14.67">+ raiseError()</tspan><tspan x="11" dy="14.67">+ throwError()</tspan><tspan x="11" dy="14.67">+ staticPushErrorHandling()</tspan><tspan x="11" dy="14.67">+ staticPopErrorHandling()</tspan><tspan x="11" dy="14.67">+ pushErrorHandling()</tspan><tspan x="11" dy="14.67">+ popErrorHandling()</tspan><tspan x="11" dy="14.67">+ loadExtension()</tspan><tspan x="11" dy="14.67">+ getStaticProperty()</tspan><tspan x="11" dy="14.67">+ setErrorHandling()</tspan></text></g>
<g id="RunInterface" class="n g" transform="translate(5780,159.5)"><rect width="98.5" height="76"/><path d="M0 25.33H98.5M0 50.67H98.5"/><text class="t" x="49" y="17">RunInterface</text></g>
<g id="string" class="n g" transform="translate(5953.4,159.5)"><rect width="54.6" height="76"/><path d="M0 25.33H54.6M0 50.67H54.6"/><text class="t" x="27.3" y="17">string</text></g>
<g id="ilSetting" class="n" transform="translate(4026.5,615)"><rect width="155" height="267"/><path d="M0 25.33H155M0 50.67H155"/><text class="t" x="77.5" y="17">ilSetting</text><text y="67.67"><tspan x="11">+ __construct()</tspan><tspan x="11" dy="14.67">+ getModule()</tspan><tspan x="11" dy="14.67">+ read()</tspan><tspan x="11" dy="14.67">+ get()</tspan><tspan x="11" dy="14.67">+ deleteAll()</tspan><tspan x="11" dy="14.67">+ deleteLike()</tspan><tspan x="11" dy="14.67">+ delete()</tspan><tspan x="11" dy="14.67">+ getAll()</tspan><tspan x="11" dy="14.67">+ set()</tspan><tspan x="11" dy="14.67">+ setScormDebug()</tspan><tspan x="11" dy="14.67">+ _lookupValue()</tspan><tspan x="11" dy="14.67">+ _getValueType()</tspan><tspan x="11" dy="14.67">+ _changeValueType()</tspan><tspan x="11" dy="14.67">+ _getLongerSettings()</tspan></text></g>
<g id="ilGlobalCacheService" class="n" transform="translate(4550,601)"><rect width="147" height="296"/><path d="M0 25.33H147M0 50.67H147"/><text class="t" x="73.5" y="17">ilGlobalCacheService</text><text y="67.67"><tspan x="11">+ __construct()</tspan><tspan x="11" dy="14.67">+ unserialize()</tspan><tspan x="11" dy="14.67">+ get()</tspan><tspan x="11" dy="14.67">+ set()</tspan><tspan x="11" dy="14.67">+ serialize()</tspan><tspan x="11" dy="14.67">+ getServiceId()</tspan><tspan x="11" dy="14.67">+ setServiceId()</tspan><tspan x="11" dy="14.67">+ getComponent()</tspan><tspan x="11" dy="14.67">+ setComponent()</tspan><tspan x="11" dy="14.67">+ isActive()</tspan><tspan x="11" dy="14.67">and 11 more...</tspan><tspan x="11" dy="14.67"># getActive()</tspan><tspan x="11" dy="14.67"># getInstallable()</tspan><tspan x="11" dy="14.67"># getMemoryLimit()</tspan><tspan x="11" dy="14.67"># getMinMemory()</tspan><tspan x="11" dy="14.67"># checkMemory()</tspan></text></g>
<g id="ilErrorHandling" class="n" transform="translate(5520.4,601)"><rect width="203" height="296"/><path d="M0 25.33H203M0 50.67H203"/><text class="t" x="101.5" y="17">ilErrorHandling</text><text y="42.33"><tspan x="11"># $error_obj</tspan></text><text y="67.67"><tspan x="11">+ __construct()</tspan><tspan x="11" dy="14.67">+ getHandler()</tspan><tspan x="11" dy="14.67">+ errorHandler()</tspan><tspan x="11" dy="14.67">+ getMessage()</tspan><tspan x="11" dy="14.67">+ setMessage()</tspan><tspan x="11" dy="14.67">+ appendMessage()</tspan><tspan x="11" dy="14.67">+ handlePreWhoops()</tspan><tspan x="11" dy="14.67"># initWhoopsHandlers()</tspan><tspan x="11" dy="14.67"># getIRuntime()</tspan><tspan x="11" dy="14.67"># getWhoops()</tspan><tspan x="11" dy="14.67"># isDevmodeActive()</tspan><tspan x="11" dy="14.67"># defaultHandler()</tspan><tspan x="11" dy="14.67"># devmodeHandler()</tspan><tspan x="11" dy="14.67"># addEditorSupport()</tspan><tspan x="11" dy="14.67"># applyEditorPathTranslations()</tspan><tspan x="11" dy="14.67"># parseEditorPathTranslation()</tspan></text></g>
<g id="ilCtrl" class="n" transform="translate(1281.6,1257.4)"><rect width="190" height="355.4"/><path d="M0 25.33H190M0 50.67H190"/><text class="t" x="95" y="17">ilCtrl</text><text y="67.67"><tspan x="11">+ __construct()</tspan><tspan x="11" dy="14.67">+ __clone()</tspan><tspan x="11" dy="14.67">+ callBaseClass()</tspan><tspan x="11" dy="14.67">+ forwardCommand()</tspan><tspan x="11" dy="14.67">+ getHTML()</tspan><tspan x="11" dy="14.67">+ getCmd()</tspan><tspan x="11" dy="14.67">+ setCmd()</tspan><tspan x="11" dy="14.67">+ getCmdClass()</tspan><tspan x="11" dy="14.67">+ setCmdClass()</tspan><tspan x="11" dy="14.67">+ getNextClass()</tspan><tspan x="11" dy="14.67">and 34 more...</tspan><tspan x="11" dy="14.67">- getQueryParam()</tspan><tspan x="11" dy="14.67">- getTableCommand()</tspan><tspan x="11" dy="14.67">- getPostCommand()</tspan><tspan x="11" dy="14.67">- getTargetUrl()</tspan><tspan x="11" dy="14.67">- isCmdSecure()</tspan><tspan x="11" dy="14.67">- appendParameterStringsBy</tspan><tspan x="11" dy="14.67">Class()</tspan><tspan x="11" dy="14.67">- populateCall()</tspan><tspan x="11" dy="14.67">- getClassByObject()</tspan></text></g>
<g id="ilGlobalTemplateInterface" class="n" transform="translate(1898,922)"><rect width="199" height="223"/><path d="M0 25.33H199M0 50.67H199"/><text class="t" x="99.5" y="17">ilGlobalTemplateInterface</text><text y="67.67"><tspan x="11">+ hideFooter()</tspan><tspan x="11" dy="14.67">+ setOnScreenMessage()</tspan><tspan x="11" dy="14.67">+ addJavaScript()</tspan><tspan x="11" dy="14.67">+ addOnLoadCode()</tspan><tspan x="11" dy="14.67">+ getOnLoadCodeForAsynch()</tspan><tspan x="11" dy="14.67">+ resetJavascript()</tspan><tspan x="11" dy="14.67">+ fillJavaScriptFiles()</tspan><tspan x="11" dy="14.67">+ addCss()</tspan><tspan x="11" dy="14.67">+ addInlineCss()</tspan><tspan x="11" dy="14.67">+ setBodyClass()</tspan><tspan x="11" dy="14.67">and 33 more...</tspan></text></g>
<g id="ilTreeImplementation" class="n" transform="translate(2568,1323.8)"><rect width="180" height="223"/><path d="M0 25.33H180M0 50.67H180"/><text class="t" x="90" y="17">ilTreeImplementation</text><text y="67.67"><tspan x="11">+ getSubTreeIds()</tspan><tspan x="11" dy="14.67">+ getSubTreeQuery()</tspan><tspan x="11" dy="14.67">+ getTrashSubTreeQuery()</tspan><tspan x="11" dy="14.67">+ getRelation()</tspan><tspan x="11" dy="14.67">+ getPathIds()</tspan><tspan x="11" dy="14.67">+ insertNode()</tspan><tspan x="11" dy="14.67">+ deleteTree()</tspan><tspan x="11" dy="14.67">+ moveToTrash()</tspan><tspan x="11" dy="14.67">+ moveTree()</tspan><tspan x="11" dy="14.67">+ getSubtreeInfo()</tspan><tspan x="11" dy="14.67">+ validateParentRelations()</tspan></text></g>
<g id="ilAppEventHandler" class="n" transform="translate(2910,1382.5)"><rect width="131" height="105.33"/><path d="M0 25.33H131M0 50.67H131"/><text class="t" x="65.5" y="17">ilAppEventHandler</text><text y="67.67"><tspan x="11">+ __construct()</tspan><tspan x="11" dy="14.67">+ raise()</tspan><tspan x="11" dy="14.67"># initListeners()</tspan></text></g>
<g id="ilTree" class="n" transform="translate(2955,1764.5)"><rect width="195" height="310.5"/><path d="M0 25.33H195M0 50.67H195"/><text class="t" x="97.5" y="17">ilTree</text><text y="42.33"><tspan x="11"># DEFAULT_GAP</tspan></text><text y="67.67"><tspan x="11">+ __construct()</tspan><tspan x="11" dy="14.67">+ initTreeImplementation()</tspan><tspan x="11" dy="14.67">+ getTreeImplementation()</tspan><tspan x="11" dy="14.67">+ useCache()</tspan><tspan x="11" dy="14.67">+ isCacheUsed()</tspan><tspan x="11" dy="14.67">+ getDepthCache()</tspan><tspan x="11" dy="14.67">+ getParentCache()</tspan><tspan x="11" dy="14.67">+ initLangCode()</tspan><tspan x="11" dy="14.67">+ getTreeTable()</tspan><tspan x="11" dy="14.67">+ getObjectDataTable()</tspan><tspan x="11" dy="14.67">and 69 more...</tspan><tspan x="11" dy="14.67">+ lookupTreesForNode()</tspan><tspan x="11" dy="14.67">+ _removeEntry()</tspan><tspan x="11" dy="14.67"># getLangCode()</tspan><tspan x="11" dy="14.67"># fetchTranslationFromObject</tspan><tspan x="11" dy="14.67">DataCache()</tspan><tspan x="11" dy="14.67">- __renumber()</tspan></text></g>
<g id="ilObjectDefinition" class="n" transform="translate(3598,1251)"><rect width="219.3" height="370"/><path d="M0 25.33H219.3M0 50.67H219.3"/><text class="t" x="109.6" y="17">ilObjectDefinition</text><text y="67.67"><tspan x="11">+ __construct()</tspan><tspan x="11" dy="14.67">+ readDefinitionData()</tspan><tspan x="11" dy="14.67">+ getClassName()</tspan><tspan x="11" dy="14.67">+ getLocation()</tspan><tspan x="11" dy="14.67">+ getGroup()</tspan><tspan x="11" dy="14.67">+ getGroupOfObj()</tspan><tspan x="11" dy="14.67">+ hasCheckbox()</tspan><tspan x="11" dy="14.67">+ getTranslationType()</tspan><tspan x="11" dy="14.67">+ stopInheritance()</tspan><tspan x="11" dy="14.67">+ getDevMode()</tspan><tspan x="11" dy="14.67">and 38 more...</tspan><tspan x="11" dy="14.67">+ getRepositoryObjectTypes</tspan><tspan x="11" dy="14.67">ForComponent()</tspan><tspan x="11" dy="14.67">+ getComponentForType()</tspan><tspan x="11" dy="14.67">+ getGroupedRepositoryObject</tspan><tspan x="11" dy="14.67">Types()</tspan><tspan x="11" dy="14.67"># readDefinitionDataFromCache()</tspan><tspan x="11" dy="14.67"># readDefinitionDataFromDB()</tspan><tspan x="11" dy="14.67"># readPluginData()</tspan><tspan x="11" dy="14.67"># parsePluginData()</tspan><tspan x="11" dy="14.67"># getGroupedPluginObjectTypes()</tspan></text></g>
<g id="ilGlobalCache" class="n" transform="translate(4685,1170)"><rect width="207.4" height="530.4"/><path d="M0 25.33H207.4M0 124H207.4"/><text class="t" x="103.7" y="17">ilGlobalCache</text><text y="42.33"><tspan x="11">+ TYPE_MEMCACHED</tspan><tspan x="11" dy="14.67">+ TYPE_FALLBACK</tspan><tspan x="11" dy="14.67">+ COMP_CLNG</tspan><tspan x="11" dy="14.67">+ COMP_RBAC_UA</tspan><tspan x="11" dy="14.67">+ COMP_EVENTS</tspan><tspan x="11" dy="14.67">+ COMP_TPL_BLOCKS</tspan></text><text y="141"><tspan x="11">+ isActive()</tspan><tspan x="11" dy="14.67">+ isValid()</tspan><tspan x="11" dy="14.67">+ isInstallable()</tspan><tspan x="11" dy="14.67">+ isCacheServiceInstallable()</tspan><tspan x="11" dy="14.67">+ getInstallationFailureReason()</tspan><tspan x="11" dy="14.67">+ exists()</tspan><tspan x="11" dy="14.67">+ set()</tspan><tspan x="11" dy="14.67">+ get()</tspan><tspan x="11" dy="14.67">+ delete()</tspan><tspan x="11" dy="14.67">+ flush()</tspan><tspan x="11" dy="14.67">and 7 more...</tspan><tspan x="11" dy="14.67">+ setup()</tspan><tspan x="11" dy="14.67">+ getInstance()</tspan><tspan x="11" dy="14.67">+ log()</tspan><tspan x="11" dy="14.67">+ getAllInstallableTypes()</tspan><tspan x="11" dy="14.67">+ getAllTypes()</tspan><tspan x="11" dy="14.67">+ lookupServiceClassName()</tspan><tspan x="11" dy="14.67">+ lookupServiceConfigName()</tspan><tspan x="11" dy="14.67">+ getSettings()</tspan><tspan x="11" dy="14.67">+ setSettings()</tspan><tspan x="11" dy="14.67">+ getActiveComponents()</tspan><tspan x="11" dy="14.67">+ setActiveComponents()</tspan><tspan x="11" dy="14.67">+ getAvailableComponents()</tspan><tspan x="11" dy="14.67">+ setAvailableComponents()</tspan><tspan x="11" dy="14.67"># __construct()</tspan><tspan x="11" dy="14.67"># checkSettings()</tspan><tspan x="11" dy="14.67"># generateServiceId()</tspan></text></g>
<g id="ILIAS" class="n" transform="translate(5577,1316)"><rect width="138" height="238.7"/><path d="M0 25.33H138M0 110H138"/><text class="t" x="69" y="17">ILIAS</text><text y="42.33"><tspan x="11">+ $account</tspan><tspan x="11" dy="14.67">+ $ini</tspan><tspan x="11" dy="14.67">+ $ini_ilias</tspan><tspan x="11" dy="14.67">+ $db</tspan><tspan x="11" dy="14.67">+ $error_obj</tspan></text><text y="127"><tspan x="11">+ __construct()</tspan><tspan x="11" dy="14.67">+ getSetting()</tspan><tspan x="11" dy="14.67">+ deleteSetting()</tspan><tspan x="11" dy="14.67">+ getAllSettings()</tspan><tspan x="11" dy="14.67">+ setSetting()</tspan><tspan x="11" dy="14.67">+ getClientId()</tspan><tspan x="11" dy="14.67">+ raiseError()</tspan><tspan x="11" dy="14.67"># getSettingObject()</tspan></text></g>
<g id="ilCachedLanguage" class="n" transform="translate(4547,1786)"><rect width="139" height="267"/><path d="M0 25.33H139M0 50.67H139"/><text class="t" x="69.5" y="17">ilCachedLanguage</text><text y="67.67"><tspan x="11">+ isActive()</tspan><tspan x="11" dy="14.67">+ writeToCache()</tspan><tspan x="11" dy="14.67">+ deleteInCache()</tspan><tspan x="11" dy="14.67">+ flush()</tspan><tspan x="11" dy="14.67">+ setLanguageKey()</tspan><tspan x="11" dy="14.67">+ getLanguageKey()</tspan><tspan x="11" dy="14.67">+ setLoaded()</tspan><tspan x="11" dy="14.67">+ getLoaded()</tspan><tspan x="11" dy="14.67">+ setTranslations()</tspan><tspan x="11" dy="14.67">+ getTranslations()</tspan><tspan x="11" dy="14.67">+ getInstance()</tspan><tspan x="11" dy="14.67"># __construct()</tspan><tspan x="11" dy="14.67"># readFromCache()</tspan><tspan x="11" dy="14.67"># readFromDB()</tspan></text></g>
<g id="ilOrgUnitPositionAndRBACAccessHandler" class="n" transform="translate(1041,1837)"><rect width="226" height="165"/><path d="M0 40H226M0 65.33H226"/><text class="t" x="113" y="17"><tspan x="113">ilOrgUnitPositionAndRBACAccess</tspan><tspan x="113" dy="14.67">Handler</tspan></text><text y="82.33"><tspan x="11">+ checkRbacOrPositionPermission</tspan><tspan x="11" dy="14.67">Access()</tspan><tspan x="11" dy="14.67">+ filterUserIdsByRbacOrPosition</tspan><tspan x="11" dy="14.67">OfCurrentUser()</tspan><tspan x="11" dy="14.67">+ hasUserRBACorAnyPosition</tspan><tspan x="11" dy="14.67">Access()</tspan></text></g>
<g id="ilRBACAccessHandler" class="n" transform="translate(1291,1808)"><rect width="216" height="223.5"/><path d="M0 25.33H216M0 50.67H216"/><text class="t" x="108" y="17">ilRBACAccessHandler</text><text y="67.67"><tspan x="11">+ storeAccessResult()</tspan><tspan x="11" dy="14.67">+ getStoredAccessResult()</tspan><tspan x="11" dy="14.67">+ setPreventCachingLastResult()</tspan><tspan x="11" dy="14.67">+ getPreventCachingLastResult()</tspan><tspan x="11" dy="14.67">+ storeCache()</tspan><tspan x="11" dy="14.67">+ readCache()</tspan><tspan x="11" dy="14.67">+ getResults()</tspan><tspan x="11" dy="14.67">+ setResults()</tspan><tspan x="11" dy="14.67">+ addInfoItem()</tspan><tspan x="11" dy="14.67">+ checkAccess()</tspan><tspan x="11" dy="14.67">and 13 more...</tspan></text></g>
<g id="ilOrgUnitPositionAccessHandler" class="n" transform="translate(1531.6,1793.6)"><rect width="249" height="252"/><path d="M0 25.33H249M0 50.67H249"/><text class="t" x="124.5" y="17">ilOrgUnitPositionAccessHandler</text><text y="67.67"><tspan x="11">+ filterUserIdsForCurrentUsers</tspan><tspan x="11" dy="14.67">PositionsAndPermission()</tspan><tspan x="11" dy="14.67">+ filterUserIdsForUsersPositions</tspan><tspan x="11" dy="14.67">AndPermission()</tspan><tspan x="11" dy="14.67">+ isCurrentUserBasedOnPositions</tspan><tspan x="11" dy="14.67">AllowedTo()</tspan><tspan x="11" dy="14.67">+ isUserBasedOnPositionsAllowedTo()</tspan><tspan x="11" dy="14.67">+ checkPositionAccess()</tspan><tspan x="11" dy="14.67">+ hasCurrentUserAnyPosition</tspan><tspan x="11" dy="14.67">Access()</tspan><tspan x="11" dy="14.67">+ filterUserIdsByPositionOf</tspan><tspan x="11" dy="14.67">CurrentUser()</tspan><tspan x="11" dy="14.67">+ filterUserIdsByPositionOfUser()</tspan></text></g>
<g id="ilAccessHandler" class="n" transform="translate(1393,2264)"><rect width="117" height="76"/><path d="M0 25.33H117M0 50.67H117"/><text class="t" x="58.5" y="17">ilAccessHandler</text></g>
<g id="TrashGUIRequest" class="n" transform="translate(1621.4,2249)"><rect width="159" height="105.33"/><path d="M0 40H159M0 65.33H159"/><text class="t" x="79.5" y="17"><tspan x="79.5">ILIAS\Repository\Trash</tspan><tspan x="79.5" dy="14.67">\TrashGUIRequest</tspan></text><text y="82.33"><tspan x="11">+ __construct()</tspan><tspan x="11" dy="14.67">+ getTrashIds()</tspan></text></g>
<g id="ilRepositoryTrashGUI" class="n f" transform="translate(2356,2528.6)"><rect width="247" height="252"/><path d="M0 25.33H247M0 50.67H247"/><text class="t" x="123.5" y="17">ilRepositoryTrashGUI</text><text y="67.67"><tspan x="11">+ executeCommand()</tspan><tspan x="11" dy="14.67">+ restoreToNewLocation()</tspan><tspan x="11" dy="14.67">+ doRestoreToNewLocation()</tspan><tspan x="11" dy="14.67">+ showDeleteConfirmation()</tspan><tspan x="11" dy="14.67">+ handleMultiReferences()</tspan><tspan x="11" dy="14.67">+ showTrashTable()</tspan><tspan x="11" dy="14.67">+ restoreObjects()</tspan><tspan x="11" dy="14.67">+ deleteObjects()</tspan><tspan x="11" dy="14.67">+ removeObjectsFromSystem()</tspan><tspan x="11" dy="14.67">+ confirmRemoveFromSystemObject()</tspan><tspan x="11" dy="14.67"># cancel()</tspan><tspan x="11" dy="14.67"># initFormTrashTargetLocation()</tspan><tspan x="11" dy="14.67"># buildPath()</tspan></text></g>
<g id="ilLanguage" class="n" transform="translate(4263,2139)"><rect width="179" height="325.8"/><path d="M0 25.33H179M0 50.67H179"/><text class="t" x="89.5" y="17">ilLanguage</text><text y="67.67"><tspan x="11">+ __construct()</tspan><tspan x="11" dy="14.67">+ getLangKey()</tspan><tspan x="11" dy="14.67">+ getDefaultLanguage()</tspan><tspan x="11" dy="14.67">+ getTextDirection()</tspan><tspan x="11" dy="14.67">+ getContentLanguage()</tspan><tspan x="11" dy="14.67">+ txtlng()</tspan><tspan x="11" dy="14.67">+ txt()</tspan><tspan x="11" dy="14.67">+ exists()</tspan><tspan x="11" dy="14.67">+ loadLanguageModule()</tspan><tspan x="11" dy="14.67">+ getInstalledLanguages()</tspan><tspan x="11" dy="14.67">and 7 more...</tspan><tspan x="11" dy="14.67">+ _getInstalledLanguages()</tspan><tspan x="11" dy="14.67">+ _lookupEntry()</tspan><tspan x="11" dy="14.67">+ lookupId()</tspan><tspan x="11" dy="14.67">+ getFallbackInstance()</tspan><tspan x="11" dy="14.67">+ getGlobalInstance()</tspan><tspan x="11" dy="14.67"># logUsage()</tspan><tspan x="11" dy="14.67"># isUsageLogEnabled()</tspan></text></g>
</svg>
